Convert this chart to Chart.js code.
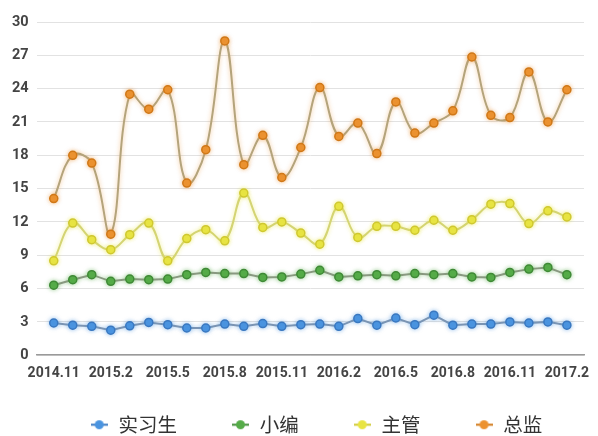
<!DOCTYPE html>
<html>
<head>
<meta charset="utf-8">
<script src="https://cdn.jsdelivr.net/npm/chart.js@4/dist/chart.umd.min.js"></script>
<style>
  html, body { margin: 0; padding: 0; background: #fff; }
  #wrap { width: 598px; height: 436px; }
</style>
</head>
<body>
<div id="wrap"><canvas id="salary_chart"></canvas></div>
<script>
// months, Nov 2014 .. Feb 2017
const months = [
  "2014.11", "2014.12", "2015.1", "2015.2", "2015.3", "2015.4", "2015.5",
  "2015.6", "2015.7", "2015.8", "2015.9", "2015.10", "2015.11", "2015.12",
  "2016.1", "2016.2", "2016.3", "2016.4", "2016.5", "2016.6", "2016.7",
  "2016.8", "2016.9", "2016.10", "2016.11", "2016.12", "2017.1", "2017.2"
];
const tickMonths = ["2014.11", "2015.2", "2015.5", "2015.8", "2015.11",
  "2016.2", "2016.5", "2016.8", "2016.11", "2017.2"];

const seriesNames = ["实习生", "小编", "主管", "总监"];

const intern = [2.9, 2.7, 2.6, 2.25, 2.65, 2.95, 2.75, 2.45, 2.45, 2.8, 2.6, 2.85, 2.6, 2.75,
  2.8, 2.6, 3.3, 2.7, 3.35, 2.75, 3.6, 2.7, 2.8, 2.8, 3.0, 2.9, 3.0, 2.7];
const editor = [6.3, 6.8, 7.25, 6.65, 6.85, 6.8, 6.85, 7.25, 7.45, 7.35, 7.35, 7.0, 7.05, 7.3,
  7.65, 7.05, 7.15, 7.25, 7.15, 7.35, 7.25, 7.35, 7.05, 7.0, 7.45, 7.75, 7.9, 7.25];
const manager = [8.5, 11.9, 10.4, 9.5, 10.85, 11.9, 8.5, 10.5, 11.3, 10.3, 14.6, 11.5, 12.0, 11.0,
  10.0, 13.4, 10.6, 11.6, 11.6, 11.25, 12.15, 11.25, 12.2, 13.6, 13.65, 11.85, 13.0, 12.45];
const director = [14.1, 18.0, 17.3, 10.9, 23.5, 22.15, 23.9, 15.5, 18.5, 28.3, 17.15, 19.8, 16.0, 18.7,
  24.1, 19.7, 20.9, 18.15, 22.8, 20.0, 20.9, 22.0, 26.85, 21.6, 21.4, 25.5, 21.0, 23.9];

const ctx = document.getElementById("salary_chart").getContext("2d");

function toPoints(list) {
  return list.map((v, i) => ({ x: i, y: v }));
}

function makeSet(label, values, line, fill, edge, glow, tension) {
  return {
    label: label,
    data: toPoints(values),
    borderColor: line,
    backgroundColor: fill,
    pointBackgroundColor: fill,
    pointBorderColor: edge,
    pointBorderWidth: 1.5,
    pointRadius: 4,
    borderWidth: 2,
    tension: tension,
    glow: glow,
  };
}

// legend marker: small dot with a line stub through it
function makeMarker(line, fill) {
  const c = document.createElement("canvas");
  c.width = 17;
  c.height = 11;
  const g = c.getContext("2d");
  g.strokeStyle = line;
  g.lineWidth = 2;
  g.beginPath();
  g.moveTo(0, 5.5);
  g.lineTo(17, 5.5);
  g.stroke();
  g.fillStyle = fill;
  g.beginPath();
  g.arc(8.5, 5.5, 4.5, 0, Math.PI * 2);
  g.fill();
  return c;
}

// soft coloured halo round each line
const glowPlugin = {
  id: "glow",
  beforeDatasetDraw(chart, args) {
    const ds = chart.data.datasets[args.index];
    chart.ctx.save();
    chart.ctx.shadowColor = ds.glow;
    chart.ctx.shadowBlur = 4;
  },
  afterDatasetDraw(chart) {
    chart.ctx.restore();
  },
};

// legend: wide gaps between items, but it only reserves a short strip
// at the bottom; its box is stretched upward after layout so it can draw
const LEGEND_RESERVED = 52;
const LEGEND_BOX = 75;
const LEGEND_SHIFT = 22;
const legendSqueeze = {
  id: "legendSqueeze",
  afterInit(chart) {
    const lg = chart.legend;
    const fit = lg.fit;
    lg.fit = function () {
      fit.call(this);
      this.height = LEGEND_RESERVED;
    };
  },
  afterLayout(chart) {
    const lg = chart.legend;
    lg.top = lg.bottom - LEGEND_BOX;
    lg.height = LEGEND_BOX;
    lg.left += LEGEND_SHIFT;
    lg.right += LEGEND_SHIFT;
  },
};

const tickFont = { family: "Roboto", size: 14, weight: "bold" };

const datasets = [
  makeSet(seriesNames[0], intern, "#7d96b4", "#4a94e0", "#3a78c0", "rgba(74,148,224,0.5)", 0),
  makeSet(seriesNames[1], editor, "#8c9a84", "#55ac48", "#3f8a36", "rgba(85,172,72,0.5)", 0),
  makeSet(seriesNames[2], manager, "#d4d474", "#e8e442", "#cfc830", "rgba(232,228,66,0.6)", 0.4),
  makeSet(seriesNames[3], director, "#b4a47c", "#ec9230", "#d07818", "rgba(236,146,48,0.5)", 0.4),
];
const markers = datasets.map((d) => makeMarker(d.pointBorderColor, d.backgroundColor));

new Chart(ctx, {
  type: "line",
  data: { datasets: datasets },
  plugins: [glowPlugin, legendSqueeze],
  options: {
    responsive: true,
    maintainAspectRatio: false,
    animation: false,
    layout: { padding: { top: 22, right: 14, left: 4, bottom: 0 } },
    plugins: {
      tooltip: { enabled: false },
      legend: {
        position: "bottom",
        labels: {
          usePointStyle: true,
          boxWidth: 19,
          boxHeight: 8,
          padding: 54,
          textAlign: "left",
          color: "#333",
          font: { family: "Noto Sans CJK SC", size: 19.5 },
          generateLabels(chart) {
            const items = Chart.defaults.plugins.legend.labels.generateLabels(chart);
            items.forEach((it, i) => { it.pointStyle = markers[i]; });
            return items;
          },
        },
      },
    },
    scales: {
      x: {
        type: "linear",
        min: -0.9,
        max: 27.9,
        afterBuildTicks(scale) {
          scale.ticks = tickMonths.map((m) => ({ value: months.indexOf(m) }));
        },
        ticks: {
          autoSkip: false,
          maxRotation: 0,
          color: "#444",
          font: tickFont,
          padding: 2,
          callback: (v) => months[v],
        },
        grid: { display: false },
        border: { display: true, color: "#9a9a9a", width: 1.5 },
      },
      y: {
        min: 0,
        max: 30,
        ticks: {
          stepSize: 3,
          color: "#444",
          font: { family: "Roboto", size: 14.5, weight: "bold" },
          padding: 8,
        },
        grid: { color: "#e2e2e2", drawTicks: false },
        border: { display: false },
      },
    },
  },
});
</script>
</body>
</html>
